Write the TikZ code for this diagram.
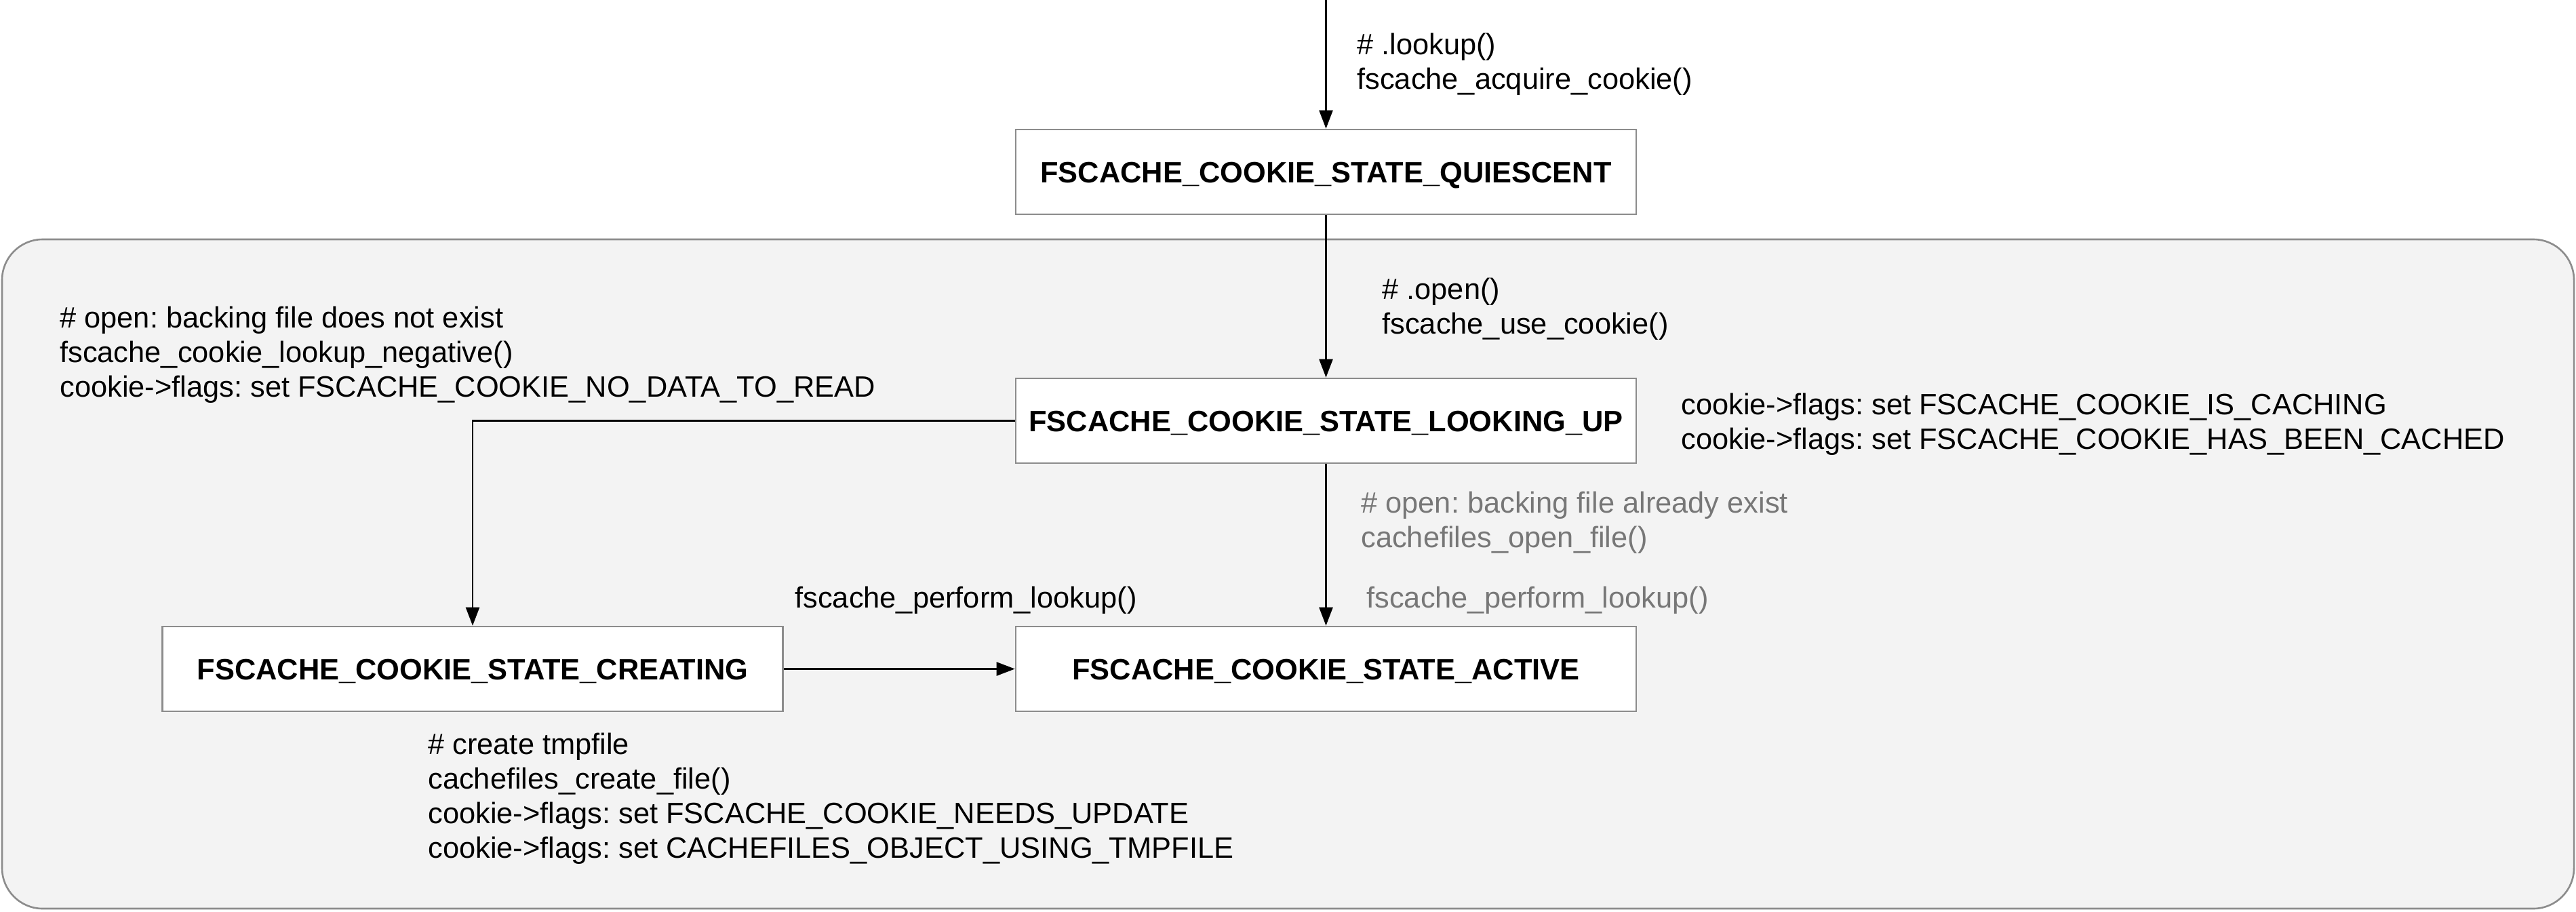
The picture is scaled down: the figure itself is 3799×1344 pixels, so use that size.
\documentclass[tikz,border=0pt]{standalone}
\usepackage{fontspec}
\setmainfont{Liberation Sans}
\usetikzlibrary{arrows.meta}
\frenchspacing
\definecolor{boxline}{HTML}{8C8C8C}
\definecolor{groupfill}{HTML}{F3F3F3}
\definecolor{graytext}{HTML}{777777}
\tikzset{
  statebox/.style={draw=boxline, line width=1.3pt, fill=white, minimum width=457.5pt, minimum height=62.5pt, inner sep=0pt, text height=16pt, text depth=0pt, font=\fontsize{21.7}{25.5}\selectfont\bfseries},
  note/.style={anchor=west, align=left, inner sep=0pt, font=\fontsize{21.7}{25.5}\selectfont},
  grynote/.style={note, text=graytext},
  flow/.style={line width=1.2pt, -{Triangle[length=13.5pt,width=10pt]}}
}
\begin{document}
\begin{tikzpicture}[x=0.5pt,y=-0.5pt]
\useasboundingbox (0,0) rectangle (3799,1344);
\draw[draw=boxline, fill=groupfill, line width=1.3pt, rounded corners=30pt] (3,353) rectangle (3796,1340);

\coordinate (top) at (1955.5,0);
\node[statebox] (quiescent) at (1955.5,253.5) {FSCACHE\_COOKIE\_STATE\_QUIESCENT};
\node[statebox] (looking) at (1955.5,620.5) {FSCACHE\_COOKIE\_STATE\_LOOKING\_UP};
\node[statebox] (creating) at (697,986.5) {FSCACHE\_COOKIE\_STATE\_CREATING};
\node[statebox] (active) at (1955.5,986.5) {FSCACHE\_COOKIE\_STATE\_ACTIVE};

\draw[flow] (top) -- (quiescent.north);
\draw[flow] (quiescent.south) -- (looking.north);
\draw[flow] (looking.west) -| (creating.north);
\draw[flow] (looking.south) -- (active.north);
\draw[flow] (creating.east) -- (active.west);

\node[note] (lbllookup) at (2001,94.5) {\# .lookup()\\fscache\_acquire\_cookie()};
\node[note] (lblopen) at (2038,455.5) {\# .open()\\fscache\_use\_cookie()};
\node[note] (lblneg) at (88,523) {\# open: backing file does not exist\\fscache\_cookie\_lookup\_negative()\\cookie->flags: set FSCACHE\_COOKIE\_NO\_DATA\_TO\_READ};
\node[note] (lblcaching) at (2479,625.5) {cookie->flags: set FSCACHE\_COOKIE\_IS\_CACHING\\cookie->flags: set FSCACHE\_COOKIE\_HAS\_BEEN\_CACHED};
\node[grynote] (lblexist) at (2007,770.5) {\# open: backing file already exist\\cachefiles\_open\_file()};
\node[grynote] (lblperf2) at (2015,885) {fscache\_perform\_lookup()};
\node[note] (lblperf1) at (1172,885) {fscache\_perform\_lookup()};
\node[note] (lblcreate) at (631,1177.5) {\# create tmpfile\\cachefiles\_create\_file()\\cookie->flags: set FSCACHE\_COOKIE\_NEEDS\_UPDATE\\cookie->flags: set CACHEFILES\_OBJECT\_USING\_TMPFILE};
\end{tikzpicture}
\end{document}
